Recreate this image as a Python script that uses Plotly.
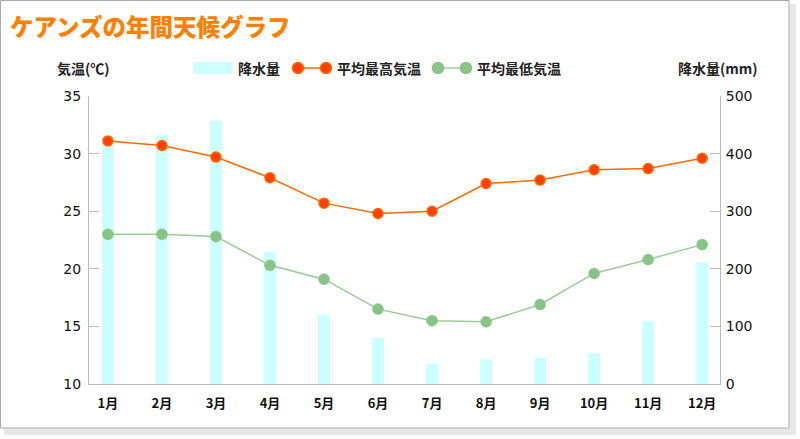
import plotly.graph_objects as go

months = ["1月", "2月", "3月", "4月", "5月", "6月", "7月", "8月", "9月", "10月", "11月", "12月"]
rain_mm = [418, 432, 457, 229, 120, 80, 35, 43, 46, 54, 109, 212]
temp_high = [31.1, 30.7, 29.7, 27.9, 25.7, 24.8, 25.0, 27.4, 27.7, 28.6, 28.7, 29.6]
temp_low = [23.0, 23.0, 22.8, 20.3, 19.1, 16.5, 15.5, 15.4, 16.9, 19.6, 20.8, 22.1]
temp_ticks = [10, 15, 20, 25, 30, 35]
rain_ticks = [0, 100, 200, 300, 400, 500]

W, H = 800, 439
L, R, T, B = 89, 720, 96, 384
PW, PH = R - L, B - T

def px(x):
    return (x - L) / PW

def py(y):
    return (B - y) / PH

JP = "Noto Sans CJK JP"
NUM = "DejaVu Sans"
BAR_C = "#ccffff"
HI_LINE = "#ff6a00"
HI_FILL = "#ff4000"
LO_LINE = "#99cc99"
LO_FILL = "#88c488"
AX_C = "#bbbbbb"

fig = go.Figure()
fig.add_trace(go.Bar(x=months, y=rain_mm, yaxis="y", marker=dict(color=BAR_C, line=dict(width=0)),
                     width=0.22, name="降水量", showlegend=False))
fig.add_trace(go.Scatter(x=months, y=temp_high, yaxis="y2", mode="lines+markers", name="平均最高気温",
                         line=dict(color=HI_LINE, width=1.5),
                         marker=dict(size=10, color=HI_FILL, line=dict(color=HI_LINE, width=1.5)),
                         showlegend=False))
fig.add_trace(go.Scatter(x=months, y=temp_low, yaxis="y2", mode="lines+markers", name="平均最低気温",
                         line=dict(color=LO_LINE, width=1.5),
                         marker=dict(size=11, color=LO_FILL, line=dict(color=LO_FILL, width=0.5)),
                         showlegend=False))

shapes = [
    dict(type="rect", xref="paper", yref="paper", x0=px(4), x1=px(796), y0=py(4), y1=py(435),
         fillcolor="#e8e8e8", line=dict(width=0), layer="below"),
    dict(type="rect", xref="paper", yref="paper", x0=px(0.5), x1=px(789), y0=py(0.5), y1=py(428),
         fillcolor="white", line=dict(color="#aaaaaa", width=1), layer="below"),
    dict(type="rect", xref="paper", yref="paper", x0=px(193), x1=px(232), y0=py(62), y1=py(74),
         fillcolor=BAR_C, line=dict(width=0)),
    dict(type="line", xref="paper", yref="paper", x0=px(298), x1=px(326), y0=py(68), y1=py(68),
         line=dict(color=HI_LINE, width=1.5)),
    dict(type="line", xref="paper", yref="paper", x0=px(438), x1=px(466), y0=py(68), y1=py(68),
         line=dict(color=LO_LINE, width=1.5)),
]
for cx, fill, edge in [(298, HI_FILL, HI_LINE), (326, HI_FILL, HI_LINE), (438, LO_FILL, LO_FILL), (466, LO_FILL, LO_FILL)]:
    shapes.append(dict(type="circle", xref="paper", yref="paper", xsizemode="pixel", ysizemode="pixel",
                       xanchor=px(cx), yanchor=py(68), x0=-5.5, x1=5.5, y0=-5.5, y1=5.5,
                       fillcolor=fill, line=dict(color=edge, width=1.5)))

def ann(text, x, y, size=14, color="#222222", weight="bold", xanchor="left"):
    return dict(text=text, xref="paper", yref="paper", x=px(x), y=py(y), xanchor=xanchor, yanchor="middle",
                showarrow=False, font=dict(family=JP, size=size, color=color, weight=weight))

annotations = [
    ann("ケアンズの年間天候グラフ", 8, 26, size=23.5, color="#ff8000", weight=900),
    ann("気温(℃)", 55, 68, size=14),
    ann("降水量", 236, 68, size=14),
    ann("平均最高気温", 335, 68, size=14),
    ann("平均最低気温", 475, 68, size=14),
    ann("降水量(mm)", 676, 68, size=14),
]

fig.update_layout(
    width=W, height=H,
    margin=dict(l=L, r=W - R, t=T, b=H - B, pad=0),
    paper_bgcolor="white", plot_bgcolor="rgba(0,0,0,0)",
    showlegend=False,
    xaxis=dict(type="category", range=[-0.35, 11.33], showgrid=False, zeroline=False,
               showline=True, linecolor=AX_C, linewidth=1, ticks="", ticklabelstandoff=7,
               tickfont=dict(family=JP, size=13, color="#111111", weight="bold")),
    yaxis=dict(side="right", range=[0, 500], tickvals=rain_ticks, showgrid=False, zeroline=False,
               showline=True, linecolor=AX_C, linewidth=1, ticks="inside", ticklen=10, tickcolor=AX_C,
               ticklabelstandoff=2,
               tickfont=dict(family=NUM, size=14, color="#111111")),
    yaxis2=dict(side="left", overlaying="y", range=[10, 35], tickvals=temp_ticks, showgrid=False,
                zeroline=False, showline=True, linecolor=AX_C, linewidth=1, ticks="inside", ticklen=10,
                tickcolor=AX_C, ticklabelstandoff=4,
                tickfont=dict(family=NUM, size=14, color="#111111")),
    shapes=shapes,
    annotations=annotations,
    bargap=0.78,
)

fig.write_html("out.html", config={"displayModeBar": False},
               post_script="document.body.style.margin='0';document.body.style.overflow='hidden';")
